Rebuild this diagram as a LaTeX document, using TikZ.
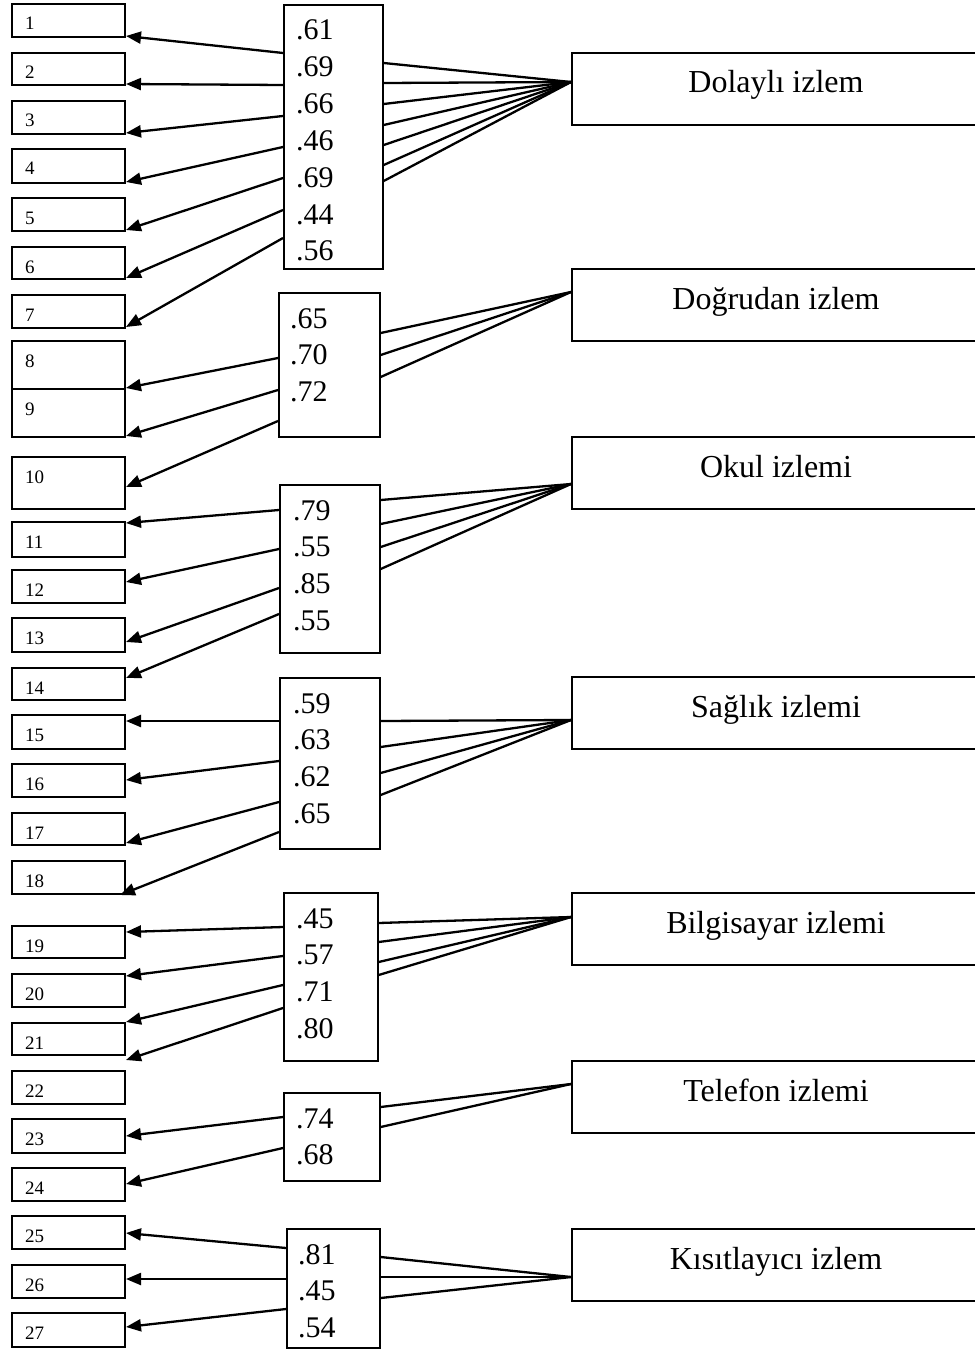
\documentclass[tikz,border=0pt]{standalone}
\usepackage{fontspec}
\setmainfont{Liberation Serif}
\usetikzlibrary{arrows.meta}
\tikzset{pin/.style={line width=2.3pt, -{Triangle[length=15pt,width=12pt]}},
  spoke/.style={line width=2.3pt},
  item/.style={draw, line width=2pt, anchor=north west, inner sep=0, minimum width=113pt},
  num/.style={anchor=base west, inner sep=0, font=\fontsize{19}{22}\selectfont},
  load/.style={draw, line width=1.7pt, anchor=north west, inner sep=0},
  val/.style={anchor=base west, inner sep=0, font=\fontsize{30}{36}\selectfont},
  factor/.style={draw, line width=2pt, anchor=north west, inner xsep=0, inner ysep=0,
    minimum width=408pt, text height=40pt, text depth=32pt, font=\fontsize{32}{38}\selectfont}}

\begin{document}
\begin{tikzpicture}[x=1pt, y=-1pt]
  \useasboundingbox[fill=white] (0,0) rectangle (974,1351);
  % item boxes: number/top/bottom
  \foreach \n/\t/\b in {1/3/36, 2/52/84, 3/100/133, 4/148/182, 5/197/230, 6/246/278,
      7/294/327, 8/340/388, 9/388/436, 10/456/508, 11/521/556, 12/569/602, 13/617/651,
      14/667/699, 15/714/748, 16/763/796, 17/812/844, 18/860/893, 19/925/957,
      20/973/1006, 21/1022/1054, 22/1070/1103, 23/1118/1152, 24/1167/1200,
      25/1215/1248, 26/1264/1297, 27/1312/1346}{
    \node[item, minimum height={(\b-\t)*1pt}] (i\n) at (11,\t) {};
    \node[num] (n\n) at (25,\t+27) {\n};}
  % loading boxes: group/left/top/right/bottom/text x/values
  \foreach \g/\x/\t/\r/\b/\vx/\vals in {
      1/283/4/382/268/296/{.61,.69,.66,.46,.69,.44,.56},
      2/278/292/379/436/290/{.65,.70,.72},
      3/279/484/379/652/293/{.79,.55,.85,.55},
      4/279/677/379/848/293/{.59,.63,.62,.65},
      5/283/892/377/1060/296/{.45,.57,.71,.80},
      6/283/1092/379/1180/296/{.74,.68},
      7/286/1228/379/1347/298/{.81,.45,.54}}{
    \node[load, minimum width={(\r-\x)*1pt}, minimum height={(\b-\t)*1pt}] (g\g) at (\x,\t) {};
    \foreach \v [count=\k] in \vals
      \node[val] (g\g-\k) at (\vx,{\t+36+36.8*(\k-1)}) {\v};}
  % factors, cut off by the right page edge
  \foreach \f/\t/\name in {1/52/Dolaylı izlem, 2/268/Doğrudan izlem, 3/436/Okul izlemi,
      4/676/Sağlık izlemi, 5/892/Bilgisayar izlemi, 6/1060/Telefon izlemi,
      7/1228/Kısıtlayıcı izlem}
    \node[factor] (f\f) at (571,\t) {\name};
  % lines from each loading box to its factor: group/start drop/end drop
  \foreach \g/\s/\e in {1/59/30, 1/79/30, 1/100/30, 1/121/30, 1/141/30, 1/161/30, 1/177/30,
      2/41/24, 2/63/24, 2/85/24,
      3/16/48, 3/40/48, 3/63/48, 3/85/48,
      4/44/44, 4/70/44, 4/96/44, 4/118/44,
      5/31/25, 5/50/25, 5/70/25, 5/83/25,
      6/15/24, 6/35/24,
      7/29/49, 7/49/49, 7/70/49}
    \draw[spoke] ([yshift=-\s pt]g\g.north east) -- ([yshift=-\e pt]f\g.north west);
  % arrows to the items: group/start drop/item/end drop
  \foreach \g/\s/\i/\o in {1/49/1/33, 1/81/2/32, 1/112/3/33, 1/143/4/34, 1/174/5/33,
      1/206/6/32, 1/234/7/33,
      2/66/8/48, 2/98/9/48, 2/129/10/31,
      3/26/11/2, 3/65/12/13, 3/104/13/25, 3/130/14/11,
      4/44/15/7, 4/84/16/17, 4/125/17/31,
      5/35/19/7, 5/64/20/3, 5/93/21/0, 5/116/21/38,
      6/25/23/18, 6/56/24/17,
      7/20/25/18, 7/51/26/15, 7/81/27/15}
    \draw[pin] ([yshift=-\s pt]g\g.north west) -- ([yshift=-\o pt]i\i.north east);
  \draw[pin] ([yshift=-155pt]g4.north west) -- ([xshift=-6pt]i18.south east);
\end{tikzpicture}
\end{document}
